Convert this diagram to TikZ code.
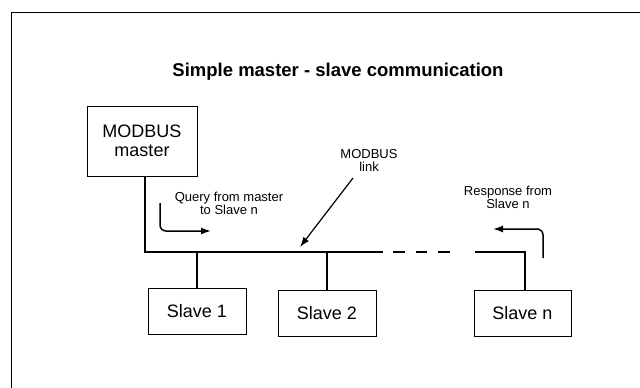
\documentclass[tikz,border=0pt]{standalone}
\usepackage{fontspec}
\setmainfont{Liberation Sans}
\usetikzlibrary{arrows.meta,positioning}
\tikzset{>={Latex[length=10pt,width=7pt]}}

\begin{document}
\begin{tikzpicture}[x=1pt,y=-1pt,
    unit/.style={draw,line width=0.9pt,minimum height=46pt,minimum width=98pt,inner sep=0pt,font=\fontsize{18}{19}\selectfont},
    note/.style={align=center,inner sep=0pt,font=\fontsize{13}{12.5}\selectfont},
    bus/.style={line width=1.8pt,line join=miter},
    flow/.style={line width=1.5pt,->,rounded corners=6pt}]
  \useasboundingbox (0,0) rectangle (640,388);
  \draw[line width=0.8pt] (11.5,388) |- (640,12.5); % frame, cut off right and bottom
  \node[font=\bfseries\fontsize{18.5}{20}\selectfont] (title) at (338,72) {Simple master - slave communication};
  \node[unit,minimum width=110pt,minimum height=70pt,align=center] (master) at (142,141) {MODBUS\\master};
  \node[unit] (s1) at (197,311) {Slave 1};
  \node[unit] (s2) at (327,313.5) {Slave 2};
  \node[unit,minimum width=97pt] (sn) at (522.5,313.5) {Slave n};
  % bus
  \coordinate (b0) at (145,252);
  \coordinate (b1) at (197,252);
  \coordinate (b2) at (327,252);
  \coordinate (d0) at (383,252);
  \coordinate (d1) at (475,252);
  \coordinate (bn) at (525,252);
  \draw[bus] (master.south -| b0) -- (b0) -- (d0);
  \draw[bus,dash pattern=on 0pt off 10pt on 12pt off 11pt on 11pt off 11pt on 12pt off 100pt] (d0) -- (d1);
  \draw[bus] (d1) -- (bn) -- (sn.north -| bn);
  \draw[bus] (b1) -- (s1);
  \draw[bus] (b2) -- (s2);
  % labels and flows
  \node[note] (query) at (229,203.5) {Query from master\\to Slave n};
  \node[note] (link) at (369,160.5) {MODBUS\\link};
  \node[note] (resp) at (508,197.5) {Response from\\Slave n};
  \coordinate (q0) at (160,203);
  \coordinate (q1) at (211,231);
  \draw[flow] (q0) |- (q1);
  \coordinate (r0) at (543,258);
  \coordinate (r1) at (493,229);
  \draw[flow] (r0) |- (r1);
  \coordinate (l0) at (353,178);
  \coordinate (l1) at (300,247);
  \draw[line width=1.2pt,->] (l0) -- (l1);
\end{tikzpicture}
\end{document}
